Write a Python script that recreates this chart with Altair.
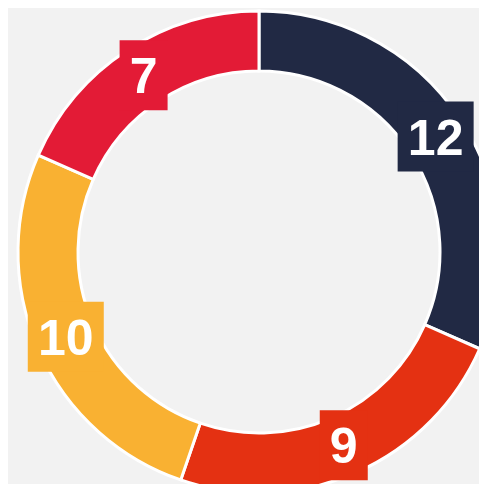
import altair as alt
import pandas as pd

categories = ["A", "B", "C", "D"]
values = [12, 9, 10, 7]
colors = ["#212944", "#e43112", "#f9b132", "#e31b36"]

df = pd.DataFrame({
    "category": categories,
    "value": values,
    "idx": list(range(len(values))),
})

CX, CY = 251, 244
R_OUT, R_IN = 241, 181
R_MID = (R_OUT + R_IN) / 2

color = alt.Color("category:N", scale=alt.Scale(domain=categories, range=colors), legend=None)

base = alt.Chart(df)

arcs = base.mark_arc(
    outerRadius=R_OUT, innerRadius=R_IN, stroke="white", strokeWidth=3
).encode(
    theta=alt.Theta("value:Q", stack=True),
    order=alt.Order("idx:Q"),
    color=color,
    x=alt.value(CX),
    y=alt.value(CY),
)

pos = base.transform_joinaggregate(
    total="sum(value)"
).transform_window(
    cum="sum(value)", sort=[alt.SortField("idx")], frame=[None, 0]
).transform_calculate(
    mid="(datum.cum - datum.value/2)/datum.total*2*PI",
    label="toString(datum.value)",
).transform_calculate(
    px=f"{CX} + {R_MID}*sin(datum.mid)",
    py=f"{CY} - {R_MID}*cos(datum.mid)",
    hw="length(datum.label)*14 + 10",
).transform_calculate(
    x1="datum.px - datum.hw",
    x2="datum.px + datum.hw",
    y1="datum.py - 35",
    y2="datum.py + 35",
)

boxes = pos.mark_rect().encode(
    x=alt.X("x1:Q", scale=None, axis=None),
    x2="x2:Q",
    y=alt.Y("y1:Q", scale=None, axis=None),
    y2="y2:Q",
    color=color,
)

texts = pos.mark_text(
    font="Liberation Sans", fontWeight="bold", fontSize=50, color="white",
    align="center", baseline="alphabetic", dy=18
).encode(
    x=alt.X("px:Q", scale=None, axis=None),
    y=alt.Y("py:Q", scale=None, axis=None),
    text="label:N",
)

chart = alt.layer(arcs, boxes, texts).properties(
    width=471, height=476,
    autosize=alt.AutoSizeParams(type="none"),
    padding=0,
    background="#f2f2f2",
).configure_view(stroke=None)

chart.save("out.html", embed_options={"renderer": "svg", "actions": False})
